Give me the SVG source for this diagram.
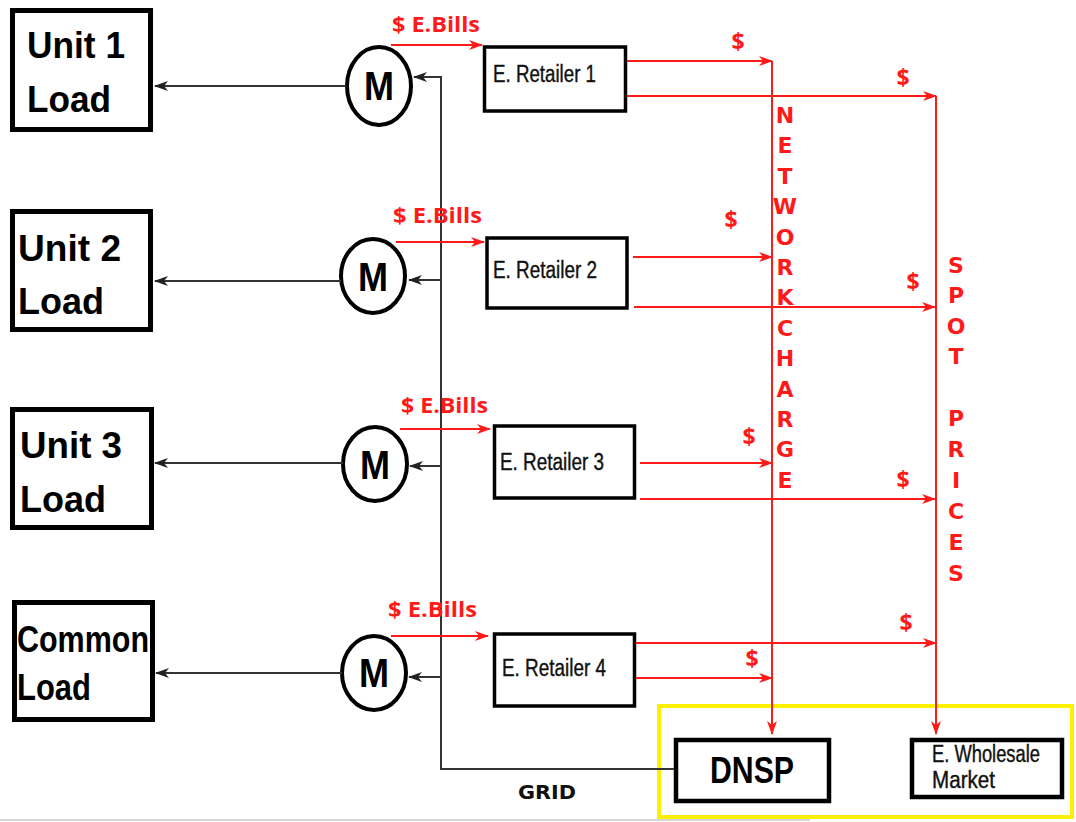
<svg xmlns="http://www.w3.org/2000/svg" width="1076" height="822" viewBox="0 0 1076 822">
<defs>
<marker id="ar" markerWidth="14" markerHeight="10" refX="13" refY="5" orient="auto" markerUnits="userSpaceOnUse">
<path d="M0,0 L14,5 L0,10 L4,5 z" fill="#ff1a1a"/>
</marker>
<marker id="ab" markerWidth="14" markerHeight="10" refX="13" refY="5" orient="auto" markerUnits="userSpaceOnUse">
<path d="M0,0 L14,5 L0,10 L4,5 z" fill="#222"/>
</marker>
</defs>
<style>
.load{fill:#fff;stroke:#000;stroke-width:5}
.ret{fill:#fff;stroke:#000;stroke-width:3.5}
.big{fill:#fff;stroke:#000;stroke-width:4.5}
.meter{fill:#fff;stroke:#000;stroke-width:4}
.lt{font-family:"Liberation Sans",Arial,sans-serif;font-weight:bold;font-size:37px;fill:#000}
.mt{font-family:"Liberation Sans",Arial,sans-serif;font-weight:bold;font-size:40px;fill:#000}
.rt{font-family:"Liberation Sans",Arial,sans-serif;font-size:23px;fill:#111;stroke:#111;stroke-width:0.4}
.bill{font-family:"Open Sans","DejaVu Sans",sans-serif;font-weight:bold;font-size:21px;fill:#ff1a1a}
.dol{font-family:"Open Sans","DejaVu Sans",sans-serif;font-weight:bold;font-size:23px;fill:#ff1a1a;text-anchor:middle}
.vt{font-family:"DejaVu Sans",sans-serif;font-weight:bold;font-size:22px;fill:#ff1a1a;text-anchor:middle}
.rl{stroke:#ff1a1a;stroke-width:2;fill:none}
.bl{stroke:#333;stroke-width:2;fill:none}
</style>
<rect width="1076" height="822" fill="#fff"/>
<line x1="0" y1="820" x2="810" y2="820" stroke="#d6d6d6" stroke-width="2"/>

<g id="unit1">
<rect class="load" x="12.5" y="10.5" width="138" height="119"/>
<text class="lt" x="27" y="58" textLength="98" lengthAdjust="spacingAndGlyphs">Unit 1</text>
<text class="lt" x="27" y="112" textLength="84" lengthAdjust="spacingAndGlyphs">Load</text>
</g>
<g id="unit2">
<rect class="load" x="12.5" y="211.5" width="138" height="118"/>
<text class="lt" x="18" y="261" textLength="103" lengthAdjust="spacingAndGlyphs">Unit 2</text>
<text class="lt" x="18" y="314" textLength="86" lengthAdjust="spacingAndGlyphs">Load</text>
</g>
<g id="unit3">
<rect class="load" x="12.5" y="409.5" width="139" height="118"/>
<text class="lt" x="20" y="458" textLength="102" lengthAdjust="spacingAndGlyphs">Unit 3</text>
<text class="lt" x="20" y="512" textLength="86" lengthAdjust="spacingAndGlyphs">Load</text>
</g>
<g id="common">
<rect class="load" x="14.5" y="602.5" width="138" height="117"/>
<text class="lt" x="17" y="652" textLength="132" lengthAdjust="spacingAndGlyphs">Common</text>
<text class="lt" x="17" y="700" textLength="74" lengthAdjust="spacingAndGlyphs">Load</text>
</g>

<g id="m1"><ellipse class="meter" cx="379" cy="86" rx="32" ry="39"/><text class="mt" x="364" y="100" textLength="30" lengthAdjust="spacingAndGlyphs">M</text></g>
<g id="m2"><ellipse class="meter" cx="373" cy="276" rx="32" ry="37"/><text class="mt" x="358" y="291" textLength="30" lengthAdjust="spacingAndGlyphs">M</text></g>
<g id="m3"><ellipse class="meter" cx="375" cy="464" rx="32" ry="37"/><text class="mt" x="360" y="479" textLength="30" lengthAdjust="spacingAndGlyphs">M</text></g>
<g id="m4"><ellipse class="meter" cx="374" cy="673" rx="32" ry="37"/><text class="mt" x="359" y="687" textLength="30" lengthAdjust="spacingAndGlyphs">M</text></g>

<g id="r1"><rect class="ret" x="484.5" y="47" width="141" height="64"/><text class="rt" x="493" y="82" textLength="103" lengthAdjust="spacingAndGlyphs">E. Retailer 1</text></g>
<g id="r2"><rect class="ret" x="487" y="238" width="140" height="70"/><text class="rt" x="493" y="278" textLength="104" lengthAdjust="spacingAndGlyphs">E. Retailer 2</text></g>
<g id="r3"><rect class="ret" x="494.5" y="426" width="140" height="72"/><text class="rt" x="500" y="470" textLength="104" lengthAdjust="spacingAndGlyphs">E. Retailer 3</text></g>
<g id="r4"><rect class="ret" x="494.5" y="634" width="140" height="72"/><text class="rt" x="502" y="676" textLength="104" lengthAdjust="spacingAndGlyphs">E. Retailer 4</text></g>

<g id="frame"><rect x="659" y="706" width="413" height="111" fill="none" stroke="#fff000" stroke-width="4"/></g>
<g id="dnsp"><rect class="big" x="676" y="740" width="153" height="61"/><text class="lt" x="710" y="783" font-size="42" textLength="84" lengthAdjust="spacingAndGlyphs">DNSP</text></g>
<g id="wholesale"><rect class="big" x="912" y="740" width="150" height="57"/>
<text class="rt" x="932" y="762" font-size="20" textLength="108" lengthAdjust="spacingAndGlyphs">E. Wholesale</text>
<text class="rt" x="932" y="788" font-size="20" textLength="63" lengthAdjust="spacingAndGlyphs">Market</text></g>

<g id="connectors">
<line class="bl" x1="346" y1="86" x2="155" y2="86" marker-end="url(#ab)"/>
<line class="bl" x1="341" y1="281" x2="155" y2="281" marker-end="url(#ab)"/>
<line class="bl" x1="343" y1="463" x2="155" y2="463" marker-end="url(#ab)"/>
<line class="bl" x1="342" y1="673" x2="156" y2="673" marker-end="url(#ab)"/>
<polyline class="bl" points="674,769 441,769 441,77 414,77" marker-end="url(#ab)"/>
<line class="bl" x1="441" y1="280" x2="409" y2="280" marker-end="url(#ab)"/>
<line class="bl" x1="441" y1="466" x2="410" y2="466" marker-end="url(#ab)"/>
<line class="bl" x1="441" y1="677" x2="409" y2="677" marker-end="url(#ab)"/>
<line class="rl" x1="391" y1="45" x2="482" y2="45" marker-end="url(#ar)"/>
<line class="rl" x1="396" y1="242" x2="484" y2="242" marker-end="url(#ar)"/>
<line class="rl" x1="400" y1="429" x2="490" y2="429" marker-end="url(#ar)"/>
<line class="rl" x1="391" y1="636" x2="488" y2="636" marker-end="url(#ar)"/>
<line class="rl" x1="627" y1="61" x2="772" y2="61" marker-end="url(#ar)"/>
<line class="rl" x1="627" y1="96" x2="936" y2="96" marker-end="url(#ar)"/>
<line class="rl" x1="633" y1="257" x2="772" y2="257" marker-end="url(#ar)"/>
<line class="rl" x1="634" y1="307" x2="935" y2="307" marker-end="url(#ar)"/>
<line class="rl" x1="640" y1="463" x2="772" y2="463" marker-end="url(#ar)"/>
<line class="rl" x1="640" y1="499" x2="935" y2="499" marker-end="url(#ar)"/>
<line class="rl" x1="636" y1="643" x2="936" y2="643" marker-end="url(#ar)"/>
<line class="rl" x1="636" y1="678" x2="772" y2="678" marker-end="url(#ar)"/>
<line class="rl" x1="772" y1="61" x2="772" y2="734" marker-end="url(#ar)"/>
<line class="rl" x1="936" y1="96" x2="936" y2="734" marker-end="url(#ar)"/>
</g>

<g id="labels">
<text class="bill" x="392" y="32" textLength="88" lengthAdjust="spacingAndGlyphs">$ E.Bills</text>
<text class="bill" x="393" y="223" textLength="89" lengthAdjust="spacingAndGlyphs">$ E.Bills</text>
<text class="bill" x="401" y="413" textLength="87" lengthAdjust="spacingAndGlyphs">$ E.Bills</text>
<text class="bill" x="388" y="617" textLength="89" lengthAdjust="spacingAndGlyphs">$ E.Bills</text>
<text class="dol" x="738" y="50">$</text>
<text class="dol" x="903" y="86">$</text>
<text class="dol" x="731" y="228">$</text>
<text class="dol" x="913" y="290">$</text>
<text class="dol" x="749" y="445">$</text>
<text class="dol" x="903" y="488">$</text>
<text class="dol" x="906" y="631">$</text>
<text class="dol" x="752" y="667">$</text>
<text class="vt" x="785" y="123">N</text>
<text class="vt" x="785" y="153">E</text>
<text class="vt" x="785" y="184">T</text>
<text class="vt" x="785" y="214">W</text>
<text class="vt" x="785" y="245">O</text>
<text class="vt" x="785" y="275">R</text>
<text class="vt" x="785" y="305">K</text>
<text class="vt" x="785" y="336">C</text>
<text class="vt" x="785" y="366">H</text>
<text class="vt" x="785" y="397">A</text>
<text class="vt" x="785" y="427">R</text>
<text class="vt" x="785" y="457">G</text>
<text class="vt" x="785" y="488">E</text>
<text class="vt" x="956" y="273">S</text>
<text class="vt" x="956" y="303">P</text>
<text class="vt" x="956" y="334">O</text>
<text class="vt" x="956" y="364">T</text>
<text class="vt" x="956" y="426">P</text>
<text class="vt" x="956" y="457">R</text>
<text class="vt" x="956" y="488">I</text>
<text class="vt" x="956" y="519">C</text>
<text class="vt" x="956" y="550">E</text>
<text class="vt" x="956" y="581">S</text>
<text x="547" y="799" font-family="DejaVu Sans, sans-serif" font-weight="bold" font-size="20" text-anchor="middle" fill="#111" textLength="58" lengthAdjust="spacingAndGlyphs">GRID</text>
</g>
</svg>
